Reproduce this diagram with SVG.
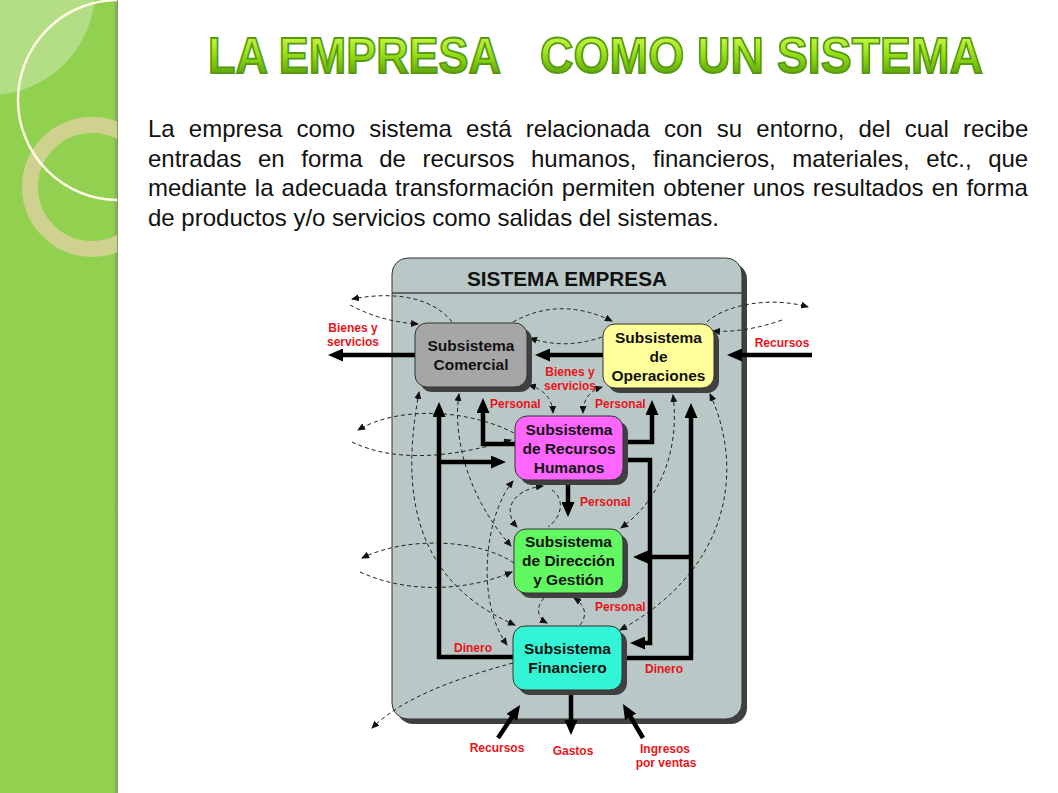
<svg xmlns="http://www.w3.org/2000/svg" width="1058" height="793" viewBox="0 0 1058 793">
<defs>
<style>
.tt{font-family:"Liberation Sans",Arial,sans-serif;font-weight:bold;font-size:50px;}
.para{font-family:"Liberation Sans",Arial,sans-serif;font-size:24px;fill:#111;}
.hdr{font-family:"Liberation Sans",Arial,sans-serif;font-weight:bold;font-size:20px;fill:#111;text-anchor:middle;}
.nt{font-family:"Liberation Sans",Arial,sans-serif;font-weight:bold;font-size:15.5px;fill:#111;text-anchor:middle;}
.lbl{font-family:"Liberation Sans",Arial,sans-serif;font-weight:bold;font-size:12px;fill:#e8141c;}
.mid{text-anchor:middle;}
.box{stroke:#333;stroke-width:1;}
.shd{fill:#404040;}
.thick{fill:none;stroke:#000;stroke-width:4.5;stroke-linejoin:miter;}
.ah{marker-end:url(#ah);}
.dash{fill:none;stroke:#222;stroke-width:1;stroke-dasharray:4 3;}
.ae{marker-end:url(#sa);}
.as{marker-start:url(#sa);}
</style>
<clipPath id="band"><rect x="0" y="0" width="117" height="793"/></clipPath>
<linearGradient id="edge" x1="0" y1="0" x2="1" y2="0">
<stop offset="0" stop-color="#92d050"/><stop offset="1" stop-color="#7f9c64"/>
</linearGradient>
<linearGradient id="titleGrad" x1="0" y1="37" x2="0" y2="73" gradientUnits="userSpaceOnUse">
<stop offset="0" stop-color="#c8f448"/><stop offset="0.4" stop-color="#9fe41c"/><stop offset="0.65" stop-color="#86d010"/><stop offset="1" stop-color="#62a80a"/>
</linearGradient>
<marker id="ah" viewBox="0 0 15 13" refX="9" refY="6.5" markerWidth="15" markerHeight="13" markerUnits="userSpaceOnUse" orient="auto">
<path d="M0,0 L15,6.5 L0,13 z" fill="#000"/>
</marker>
<marker id="sa" viewBox="0 0 8 7" refX="7" refY="3.5" markerWidth="8" markerHeight="7" markerUnits="userSpaceOnUse" orient="auto-start-reverse">
<path d="M0,0 L8,3.5 L0,7 z" fill="#111"/>
</marker>
</defs>

<rect x="0" y="0" width="1058" height="793" fill="#fff"/>

<g id="side-band">
<rect x="0" y="0" width="117" height="793" fill="#92d050"/>
<rect x="113" y="0" width="5" height="793" fill="url(#edge)"/>
<g clip-path="url(#band)">
<circle cx="-10" cy="-10" r="105" fill="#fff" fill-opacity="0.3"/>
<circle cx="92" cy="187" r="62" fill="none" stroke="#d6d196" stroke-opacity="0.9" stroke-width="16"/>
<circle cx="118" cy="100" r="100" fill="none" stroke="#fffbe6" stroke-width="2.5"/>
</g>
</g>

<g id="title">
<text class="tt" x="208" y="73" textLength="293" lengthAdjust="spacingAndGlyphs" fill="url(#titleGrad)" stroke="#559a12" stroke-width="1.8">LA EMPRESA</text>
<text class="tt" x="540" y="73" textLength="443" lengthAdjust="spacingAndGlyphs" fill="url(#titleGrad)" stroke="#559a12" stroke-width="1.8">COMO UN SISTEMA</text>
</g>

<g id="paragraph">
<text class="para" x="148" y="137" word-spacing="7.5">La empresa como sistema está relacionada con su entorno, del cual recibe</text>
<text class="para" x="148" y="167" word-spacing="9.9">entradas en forma de recursos humanos, financieros, materiales, etc., que</text>
<text class="para" x="148" y="196" word-spacing="1.4">mediante la adecuada transformación permiten obtener unos resultados en forma</text>
<text class="para" x="148" y="226">de productos y/o servicios como salidas del sistemas.</text>
</g>

<g id="sistema-empresa">
<rect class="shd" x="397" y="263" width="350" height="461" rx="16"/>
<rect x="392" y="258" width="350" height="461" rx="16" fill="#b9c8c6" stroke="#333" stroke-width="1"/>
<line x1="392" y1="293" x2="742" y2="293" stroke="#444" stroke-width="1.5"/>
<text class="hdr" x="567" y="286" textLength="200" lengthAdjust="spacingAndGlyphs">SISTEMA EMPRESA</text>
</g>

<g id="connectors">
<path class="dash ae" d="M513,322 Q560,296 612,321"/>
<path class="dash ae" d="M602,337 Q565,350 530,338"/>
<path class="dash ae" d="M452,322 C435,300 400,290 352,299"/>
<path class="dash ae" d="M350,305 Q382,322 418,324"/>
<path class="dash ae" d="M707,322 C725,305 770,296 808,307"/>
<path class="dash ae" d="M782,320 Q745,333 713,331"/>
<path class="dash ae as" d="M529,385 Q552,392 553,413"/>
<path class="dash ae as" d="M602,387 Q583,393 583,413"/>
<path class="dash ae as" d="M419,392 C405,470 400,575 515,625"/>
<path class="dash ae as" d="M459,394 C452,440 470,500 511,546"/>
<path class="dash ae as" d="M513,481 C485,515 475,600 507,645"/>
<path class="dash ae as" d="M543,486 C510,490 503,512 517,527"/>
<path class="dash" d="M552,490 C566,500 561,518 548,527"/>
<path class="dash ae" d="M544,598 C535,608 538,618 547,623"/>
<path class="dash ae" d="M580,625 C588,615 585,605 574,598"/>
<path class="dash ae as" d="M710,394 C745,470 730,570 620,630"/>
<path class="dash ae as" d="M673,395 C680,450 660,500 621,528"/>
<path class="dash ae" d="M514,433 C470,410 400,405 358,430"/>
<path class="dash ae" d="M352,442 C400,465 460,455 511,440"/>
<path class="dash ae" d="M514,563 C480,540 410,535 362,558"/>
<path class="dash ae" d="M360,572 C410,595 470,590 512,572"/>
<path class="dash ae" d="M513,663 C450,680 400,700 372,728"/>
<path class="thick ah" d="M415,355 H334"/>
<path class="thick ah" d="M603,355 H541"/>
<path class="thick ah" d="M812,355 H733"/>
<path class="thick ah" d="M515,444 H483 V404"/>
<path class="thick ah" d="M623,442 H652 V406"/>
<path class="thick ah" d="M513,657 H439 V408"/>
<path class="thick ah" d="M439,462 H500"/>
<path class="thick ah" d="M622,658 H691 V409"/>
<path class="thick ah" d="M691,557 H639"/>
<path class="thick ah" d="M623,460 H650 V643 H636"/>
<path class="thick ah" d="M568,485 V511"/>
<path class="thick ah" d="M571,695 V729"/>
<path class="thick ah" d="M498,738 L516.7,710"/>
<path class="thick ah" d="M643,738 L626,709.2"/>
<text class="lbl mid" x="353" y="332">Bienes y</text>
<text class="lbl mid" x="353" y="346">servicios</text>
<text class="lbl mid" x="570" y="376">Bienes y</text>
<text class="lbl mid" x="570" y="390">servicios</text>
<text class="lbl mid" x="782" y="347">Recursos</text>
<text class="lbl" x="490" y="408">Personal</text>
<text class="lbl" x="595" y="408">Personal</text>
<text class="lbl" x="580" y="506">Personal</text>
<text class="lbl" x="595" y="611">Personal</text>
<text class="lbl" x="454" y="652">Dinero</text>
<text class="lbl" x="645" y="673">Dinero</text>
<text class="lbl mid" x="497" y="752">Recursos</text>
<text class="lbl mid" x="573" y="755">Gastos</text>
<text class="lbl mid" x="665" y="753">Ingresos</text>
<text class="lbl mid" x="666" y="767">por ventas</text>
</g>

<g id="subsistema-comercial">
<rect class="shd" x="420" y="328" width="112" height="64" rx="12"/>
<rect class="box" x="415" y="323" width="112" height="64" rx="12" fill="#a6a6a6"/>
<text class="nt" x="471" y="351">Subsistema</text>
<text class="nt" x="471" y="370">Comercial</text>
</g>

<g id="subsistema-operaciones">
<rect class="shd" x="608" y="329" width="111" height="64" rx="12"/>
<rect class="box" x="603" y="324" width="111" height="64" rx="12" fill="#ffff99"/>
<text class="nt" x="658.5" y="343">Subsistema</text>
<text class="nt" x="658.5" y="362">de</text>
<text class="nt" x="658.5" y="381">Operaciones</text>
</g>

<g id="subsistema-rrhh">
<rect class="shd" x="520" y="421" width="108" height="64" rx="12"/>
<rect class="box" x="515" y="416" width="108" height="64" rx="12" fill="#ff66ff"/>
<text class="nt" x="569" y="435">Subsistema</text>
<text class="nt" x="569" y="454">de Recursos</text>
<text class="nt" x="569" y="473">Humanos</text>
</g>

<g id="subsistema-direccion">
<rect class="shd" x="519" y="534" width="109" height="64" rx="12"/>
<rect class="box" x="514" y="529" width="109" height="64" rx="12" fill="#62f862"/>
<text class="nt" x="568.5" y="547">Subsistema</text>
<text class="nt" x="568.5" y="566">de Dirección</text>
<text class="nt" x="568.5" y="585">y Gestión</text>
</g>

<g id="subsistema-financiero">
<rect class="shd" x="518" y="631" width="109" height="64" rx="12"/>
<rect class="box" x="513" y="626" width="109" height="64" rx="12" fill="#33f5d5"/>
<text class="nt" x="567.5" y="654">Subsistema</text>
<text class="nt" x="567.5" y="673">Financiero</text>
</g>
</svg>
